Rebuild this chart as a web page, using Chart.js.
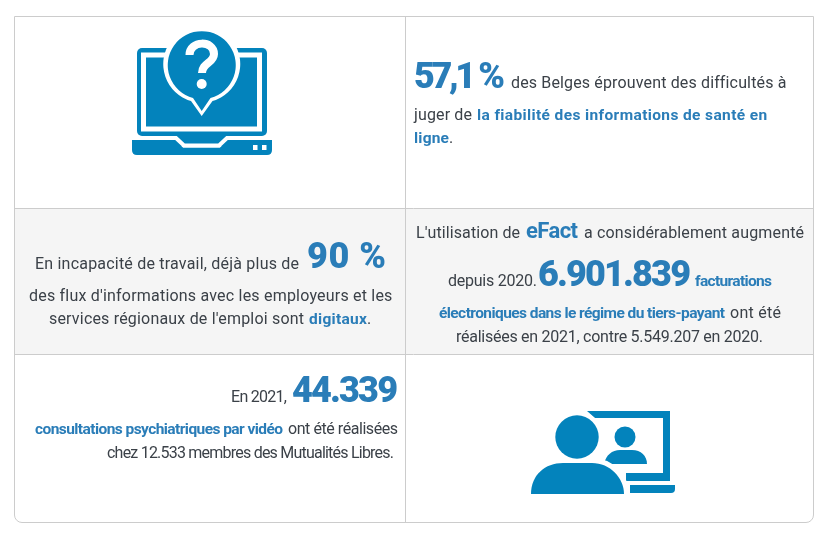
<!DOCTYPE html>
<html lang="fr">
<head>
<meta charset="utf-8">
<title>Chiffres clés</title>
<script src="https://cdn.jsdelivr.net/npm/chart.js@4"></script>
<style>
    html, body { margin: 0; background: #fff; }
    #stage { position: relative; width: 827px; height: 535px; overflow: hidden; }
    #grid, #icons { position: absolute; left: 0; top: 0; }
    #frame { position: absolute; left: 14px; top: 16px; width: 798px; height: 505px; border: 1px solid #ccc; border-radius: 0 0 8px 8px; }
    .run { position: absolute; white-space: pre; font-family: Roboto, sans-serif; color: #3b4148; }
    .plain { font-size: 16px; }
    .bold { font-size: 15.5px; font-weight: 700; color: #2a7db8; }
    .mid { font-size: 22px; font-weight: 700; color: #2a7db8; }
    .big { font-size: 36px; font-weight: 900; color: #2a7db8; }
</style>
</head>
<body>
<div id="stage">
    <canvas id="grid" width="827" height="535"></canvas>
    <div id="frame"></div>
    <svg id="icons" width="827" height="535" fill="#0383bc">
        <!-- portable -->
        <rect x="137" y="48" width="130" height="88" rx="5"/>
        <rect x="143.5" y="55" width="116" height="74" fill="#0383bc" stroke="#fff" stroke-width="5"/>
        <path d="M175 134H228V146H175Z"/>
        <path d="M132 140H175L183 147.5H220L228 140H272V150Q272 155 267 155H137Q132 155 132 150Z"/>
        <path d="M130 138H176L184 145.5H219L227 138H274" fill="none" stroke="#fff" stroke-width="4"/>
        <rect x="253" y="145" width="4.5" height="5" fill="#fff"/>
        <rect x="262" y="145" width="4.5" height="5" fill="#fff"/>
        <path d="M201.7 116L191 101A38.5 38.5 0 1 1 212.5 101Z" fill="#fff"/>
        <path d="M201.7 111L193 98A34 34 0 1 1 210.5 98Z"/>
        <path d="M189.5 55C189.5 40 214 40 214 54C214 63 202 63 202 73" fill="none" stroke="#fff" stroke-width="8"/>
        <circle cx="201.7" cy="84" r="5" fill="#fff"/>
        <!-- consultation video -->
        <path d="M587 411H670V481H626V473H663V418H595Z"/>
        <path d="M630 485H675V489Q675 493 671 493H630Z"/>
        <circle cx="625" cy="437" r="10.5"/>
        <path d="M604 464C606 455 612 450 620 450H632C641 450 647 456 647 464Z"/>
        <circle cx="577" cy="437" r="26" fill="#fff"/>
        <path d="M531 494C531 475 545 463 563 463H592C610 463 624 478 624 494Z" stroke="#fff" stroke-width="10"/>
        <circle cx="577" cy="437" r="21.7"/>
        <path d="M531 494C531 475 545 463 563 463H592C610 463 624 478 624 494Z"/>
    </svg>
</div>
<script>
    // Chiffres clés
    const keyFigures = ['57,1 %', '90 %', '6.901.839', '44.339'];
    const earlierFigures = ['5.549.207', '12.533'];
    const years = ['2020', '2021'];

    // Bords du tableau, en pixels de la page
    const columnEdges = [14, 405, 813];
    const rowEdges = [16, 208, 354, 522];

    new Chart(document.getElementById('grid').getContext('2d'), {
        type: 'scatter',
        data: {
            datasets: [{
                // bande grise de la rangée du milieu
                data: [
                    { x: columnEdges[0], y: rowEdges[1] },
                    { x: columnEdges[2], y: rowEdges[1] }
                ],
                showLine: true,
                borderWidth: 0,
                pointRadius: 0,
                backgroundColor: '#f5f5f5',
                fill: { value: rowEdges[2] }
            }]
        },
        options: {
            responsive: false,
            animation: false,
            layout: { padding: { left: 14, top: 16, right: 14, bottom: 13 } },
            plugins: { legend: { display: false }, tooltip: { enabled: false } },
            scales: {
                x: {
                    type: 'linear',
                    min: columnEdges[0],
                    max: columnEdges[2],
                    border: { display: false },
                    ticks: { display: false },
                    grid: { color: '#ccc', drawTicks: false, z: 1 },
                    afterBuildTicks: (scale) => { scale.ticks = [{ value: columnEdges[1] }]; }
                },
                y: {
                    type: 'linear',
                    reverse: true,
                    min: rowEdges[0],
                    max: rowEdges[3],
                    border: { display: false },
                    ticks: { display: false },
                    grid: { color: '#ccc', drawTicks: false, z: 1 },
                    afterBuildTicks: (scale) => { scale.ticks = [{ value: rowEdges[1] }, { value: rowEdges[2] }]; }
                }
            }
        }
    });

    // Morceaux de texte : [classe, texte, x début, x fin, ligne de base]
    const runs = [
        ['big', keyFigures[0], 414, 505, 88],
        ['plain', 'des Belges éprouvent des difficultés à', 511, 785, 88],
        ['plain', 'juger de', 414, 472, 120],
        ['bold', 'la fiabilité des informations de santé en', 477, 767, 120],
        ['bold', 'ligne', 414, 449, 143],
        ['plain', '.', 449, 453, 143],

        ['plain', 'En incapacité de travail, déjà plus de', 35, 299, 269],
        ['big', keyFigures[1], 307, 386, 268],
        ['plain', "des flux d'informations avec les employeurs et les", 29, 392, 301],
        ['plain', "services régionaux de l'emploi sont", 49, 304, 324],
        ['bold', 'digitaux', 309, 367, 324],
        ['plain', '.', 367, 371, 324],

        ['plain', "L'utilisation de", 416, 520, 238],
        ['mid', 'eFact', 526, 578, 238],
        ['plain', 'a considérablement augmenté', 584, 804, 238],
        ['plain', 'depuis ' + years[0] + '.', 448, 537, 286],
        ['big', keyFigures[2], 538, 691, 286],
        ['bold', 'facturations', 695, 772, 286],
        ['bold', 'électroniques dans le régime du tiers-payant', 439, 725, 318],
        ['plain', 'ont été', 730, 781, 318],
        ['plain', 'réalisées en ' + years[1] + ', contre ' + earlierFigures[0] + ' en ' + years[0] + '.', 456, 763, 342],

        ['plain', 'En ' + years[1] + ',', 231, 287, 402],
        ['big', keyFigures[3], 292, 398, 402],
        ['bold', 'consultations psychiatriques par vidéo', 35, 283, 434],
        ['plain', 'ont été réalisées', 288, 398, 434],
        ['plain', 'chez ' + earlierFigures[1] + ' membres des Mutualités Libres.', 107, 394, 458]
    ];

    const stage = document.getElementById('stage');
    const ruler = document.createElement('canvas').getContext('2d');

    runs.forEach(([kind, text, x0, x1, baseline]) => {
        const el = document.createElement('div');
        el.className = 'run ' + kind;
        el.textContent = text;
        stage.appendChild(el);

        // ajuste l'espacement pour tomber sur la largeur voulue
        const style = getComputedStyle(el);
        const natural = el.getBoundingClientRect().width;
        if (text.length > 1) el.style.letterSpacing = ((x1 - x0 - natural) / (text.length - 1)) + 'px';

        ruler.font = style.fontWeight + ' ' + style.fontSize + ' ' + style.fontFamily;
        const ascent = ruler.measureText('x').fontBoundingBoxAscent;
        el.style.left = x0 + 'px';
        el.style.top = (baseline - ascent) + 'px';
    });
</script>
</body>
</html>
